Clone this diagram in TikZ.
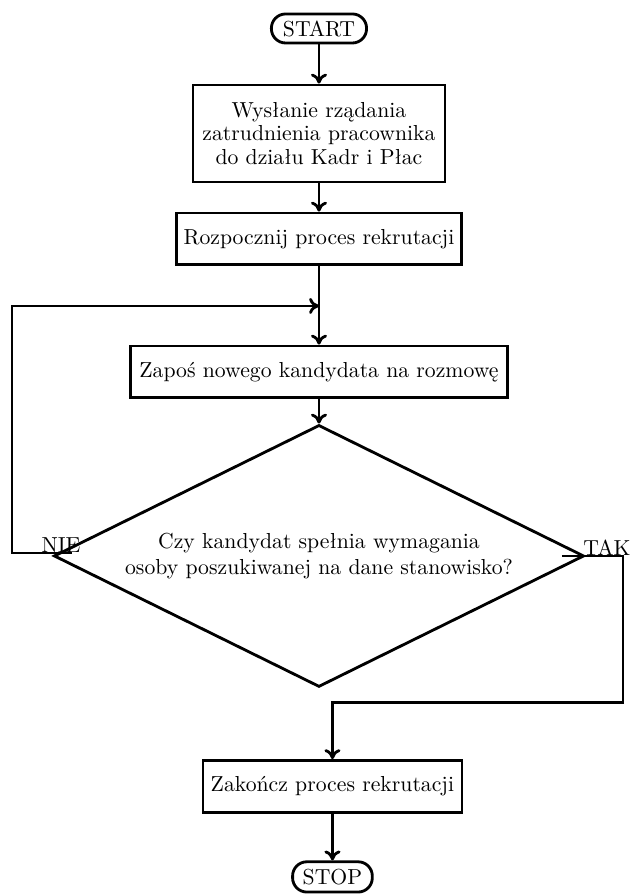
\documentclass[tikz,border=0pt]{standalone}
\usepackage{fontspec}
\usetikzlibrary{shapes.geometric, arrows.meta}

\tikzset{
    blok/.style={draw, line width=1.3pt, rectangle, align=center, minimum height=0.84cm, font=\linespread{0.9}\selectfont},
    term/.style={draw, line width=1.3pt, rectangle, rounded corners=0.23cm, inner sep=1pt},
    decyzja/.style={draw, line width=1.3pt, diamond, align=center, shape aspect=2, minimum width=8.58cm, minimum height=4.24cm, inner sep=0pt},
    strzalka/.style={-{To[length=1.6mm, width=2.6mm]}, line width=1.3pt},
    linia/.style={line width=1.3pt}
}

\begin{document}
\begin{tikzpicture}

    \useasboundingbox (0,0) rectangle (10.24,-14.5);

    \node[term, minimum width=1.54cm, minimum height=0.47cm] (start) at (5.162,-0.461) {START};
    \node[blok, minimum width=4.08cm, minimum height=1.57cm] (wyslanie) at (5.162,-2.160) {Wysłanie rządania\\zatrudnienia pracownika\\do działu Kadr i Płac};
    \node[blok, minimum width=4.56cm] (rozpocznij) at (5.162,-3.867) {Rozpocznij proces rekrutacji};
    \node[blok, minimum width=6.10cm] (zapros) at (5.162,-6.019) {Zapoś nowego kandydata na rozmowę};
    \node[decyzja] (czy) at (5.162,-8.997) {Czy kandydat spełnia wymagania\\osoby poszukiwanej na dane stanowisko?};
    \node[blok, minimum width=4.19cm] (zakoncz) at (5.380,-12.727) {Zakończ proces rekrutacji};
    \node[term, minimum width=1.29cm, minimum height=0.49cm] (stop) at (5.380,-14.191) {STOP};

    \node[inner sep=0pt] (nie) at (0.987,-8.819) {NIE};
    \node[inner sep=0pt] (tak) at (9.822,-8.867) {TAK};

    \coordinate (scal) at (5.162,-4.951);
    \coordinate (niestart) at (1.165,-8.948);
    \coordinate (nierog) at (0.194,-8.948);
    \coordinate (takstart) at (9.094,-8.997);
    \coordinate (takrog) at (10.081,-8.997);
    \coordinate (takdol) at (10.081,-11.375);

    \draw[strzalka] (start) -- (wyslanie);
    \draw[strzalka] (wyslanie) -- (rozpocznij);
    \draw[linia] (rozpocznij) -- (scal);
    \draw[strzalka] (scal) -- (zapros);
    \draw[strzalka] (zapros) -- (czy);
    \draw[strzalka] (niestart) -- (nierog) |- (scal);
    \draw[strzalka] (takstart) -- (takrog) -- (takdol) -| (zakoncz.north);
    \draw[strzalka] (zakoncz) -- (stop);

\end{tikzpicture}
\end{document}
